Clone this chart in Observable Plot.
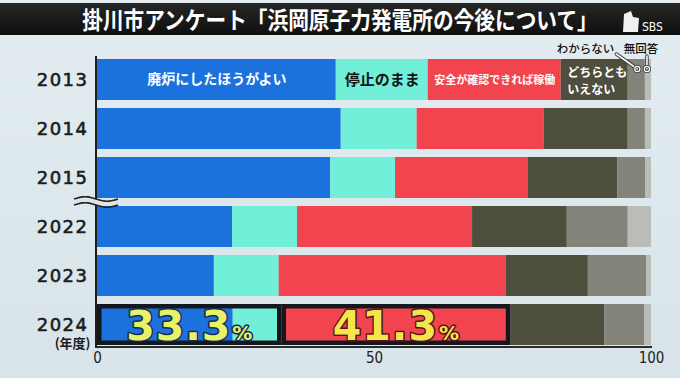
<!DOCTYPE html>
<html><head><meta charset="utf-8">
<script src="https://cdn.jsdelivr.net/npm/d3@7"></script>
<script src="https://cdn.jsdelivr.net/npm/@observablehq/plot@0.6"></script>
<style>
body{margin:0;width:680px;height:378px;overflow:hidden;background:linear-gradient(180deg,#e3edf1 0%,#d8e4e9 100%);font-family:"Noto Sans CJK JP",sans-serif;}
#title{position:relative;height:38px;}
#band{position:absolute;left:0;right:0;top:3px;height:32px;background:linear-gradient(#262626,#0f0f0f);}
#ttext{position:absolute;left:0;right:0;top:3px;height:32px;line-height:32px;text-align:center;color:#fff;font-weight:bold;font-size:23.5px;transform:scaleX(0.88);white-space:nowrap;letter-spacing:0;}
#logo{position:absolute;left:620px;top:8px;}
#chart svg{display:block;}
</style></head><body>
<div id="title"><div id="band"></div><div id="ttext">掛川市アンケート「浜岡原子力発電所の今後について」</div>
<svg id="logo" width="50" height="26"><path d="M4,6 L11,3 L13,9 L19,10 L18,24 L3,24 Z" fill="#f0f0f0"/><text x="22" y="23" fill="#fff" font-size="12" font-family="DejaVu Sans Condensed, sans-serif">SBS</text></svg>
</div>
<div id="chart"></div>
<script>
const years = ["2013","2014","2015","2022","2023","2024"];
const categories = ["廃炉にしたほうがよい","停止のまま","安全が確認できれば稼働","どちらともいえない","わからない","無回答"];
const haiRo     = [43.1, 44.0, 42.1, 24.4, 21.1, 24.5];
const teishi    = [16.6, 13.7, 11.7, 11.7, 11.7,  8.8];
const anzen     = [24.0, 22.9, 24.0, 31.6, 41.0, 41.3];
const dochira   = [12.1, 15.2, 16.1, 17.1, 14.8, 17.0];
const wakaranai = [ 3.1,  3.1,  5.1, 11.0, 10.5,  7.2];
const mukaito   = [ 1.1,  1.1,  1.0,  4.2,  0.9,  1.2];
const colors = ["#1b72dc","#72efd9","#f1444f","#4e4e3c","#84837a","#b9bcb7"];
const xTicks = [0, 50, 100];
const highlightLabels = ["33.3", "41.3"];
const yearUnit = "(年度)";

const series = [haiRo, teishi, anzen, dochira, wakaranai, mukaito];
const rows = categories.flatMap((c, i) => years.map((y, j) => ({year: y, category: c, value: series[i][j]})));
const cum = (j, i) => series.slice(0, i).reduce((s, a) => s + a[j], 0);
const mid = (j, i) => cum(j, i) + series[i][j] / 2;

const lab0 = [{x: mid(0,0), t: categories[0]}];
const lab1 = [{x: mid(0,1), t: categories[1]}];
const lab2 = [{x: mid(0,2), t: categories[2]}];
const lab3 = [{x: cum(0,3), t: "どちらとも\nいえない"}];

const last = years.length - 1;
const boxes = [
  {x1: 0, x2: cum(last, 2), label: highlightLabels[0], color: "#e6f268", outline: "#1b2a52"},
  {x1: cum(last, 2), x2: cum(last, 3), label: highlightLabels[1], color: "#f4e64a", outline: "#5a1418"}
];

function decorations(index, scales, values, dims) {
  const x = scales.x, y = scales.y;
  const bw = typeof y.bandwidth === "function" ? y.bandwidth() : y.bandwidth;
  const g = d3.create("svg:g");
  const yb = dims.height - dims.marginBottom;
  const bg = "#dbe6eb";
  g.append("line").attr("x1", x(0)).attr("x2", x(100) + 1).attr("y1", yb + 2).attr("y2", yb + 2)
    .attr("stroke", "#2b2b2b").attr("stroke-width", 2);
  g.append("line").attr("x1", x(0) - 1).attr("x2", x(0) - 1).attr("y1", y(years[0]) - 3).attr("y2", yb + 3)
    .attr("stroke", "#1e1e1e").attr("stroke-width", 2);
  const ym = (y("2015") + bw + y("2022")) / 2;
  const xa = x(0) - 23, xb = x(0) + 21;
  g.append("rect").attr("x", xa).attr("y", ym - 3).attr("width", xb - xa).attr("height", 6).attr("fill", bg);
  const wave = (yy) => d3.line().curve(d3.curveBasis)(d3.range(0, 1.0001, 0.1).map(t => [xa + t * (xb - xa), yy - 2.4 * Math.sin(t * Math.PI * 2)]));
  for (const dy of [-3, 3]) g.append("path").attr("d", wave(ym + dy)).attr("fill", "none").attr("stroke", "#222").attr("stroke-width", 1.6);
  const y0 = y(years[0]);
  const xg = x(mid(0, 4)), xl = x(mid(0, 5));
  const leaders = [
    {tx: xg - 22, anchor: "end", x1: xg - 20, y1: y0 - 5, x2: xg + 1, y2: y0 + 10, text: categories[4]},
    {tx: xl - 7, anchor: "middle", x1: xl - 1, y1: y0 - 3, x2: xl - 1, y2: y0 + 10, text: categories[5]}
  ];
  for (const L of leaders) {
    g.append("text").attr("x", L.tx).attr("y", y0 - 10).attr("dy", "0.35em").attr("text-anchor", L.anchor)
      .attr("font-size", 11.5).attr("fill", "#111").attr("font-weight", 500).text(L.text);
    g.append("line").attr("x1", L.x1).attr("y1", L.y1).attr("x2", L.x2).attr("y2", L.y2).attr("stroke", "#333").attr("stroke-width", 3.4).attr("stroke-linecap", "round");
    g.append("line").attr("x1", L.x1).attr("y1", L.y1).attr("x2", L.x2).attr("y2", L.y2).attr("stroke", "#fff").attr("stroke-width", 1.6).attr("stroke-linecap", "round");
    g.append("circle").attr("cx", L.x2).attr("cy", L.y2).attr("r", 2.6).attr("fill", "none").attr("stroke", "#333").attr("stroke-width", 2.8);
    g.append("circle").attr("cx", L.x2).attr("cy", L.y2).attr("r", 2.6).attr("fill", "none").attr("stroke", "#fff").attr("stroke-width", 1.3);
  }
  const cy = y(years[last]) + bw / 2;
  for (const b of boxes) {
    const t = g.append("text").attr("x", x((b.x1 + b.x2) / 2)).attr("y", cy + 15).attr("text-anchor", "middle")
      .attr("font-family", "DejaVu Sans, sans-serif").attr("font-weight", "bold")
      .attr("fill", b.color).attr("stroke", b.outline).attr("stroke-width", 3).attr("paint-order", "stroke").attr("stroke-linejoin", "round");
    t.append("tspan").attr("font-size", 41).attr("letter-spacing", 1).text(b.label);
    t.append("tspan").attr("font-size", 20).attr("dx", 1).text("%");
  }
  return g.node();
}

const chart = Plot.plot({
  width: 680, height: 340,
  marginLeft: 97, marginRight: 29, marginTop: 20, marginBottom: 33,
  style: {fontFamily: "'Noto Sans CJK JP', sans-serif", background: "transparent", overflow: "visible"},
  x: {domain: [0, 100], axis: null},
  y: {domain: years, axis: null, paddingInner: 0.17, paddingOuter: 0},
  color: {domain: categories, range: colors},
  marks: [
    Plot.barX(rows, {y: "year", x: "value", fill: "category"}),
    Plot.barX(boxes, {x1: "x1", x2: "x2", y: () => years[last], fill: "none", stroke: "#15171e", strokeWidth: 4.5, inset: 2.25}),
    Plot.text(lab0, {x: "x", y: () => years[0], text: "t", fill: "white", fontSize: 14, fontWeight: "bold"}),
    Plot.text(lab1, {x: "x", y: () => years[0], text: "t", fill: "#151515", fontSize: 15, fontWeight: "bold"}),
    Plot.text(lab2, {x: "x", y: () => years[0], text: "t", fill: "white", fontSize: 11, fontWeight: "bold"}),
    Plot.text(lab3, {x: "x", y: () => years[0], text: "t", fill: "white", fontSize: 12, fontWeight: "bold", textAnchor: "start", dx: 6, lineHeight: 1.45}),
    Plot.text(years, {y: d => d, text: d => d, frameAnchor: "left", textAnchor: "end", dx: -9, fontSize: 18, fill: "#1c1c1c", stroke: "#1c1c1c", strokeWidth: 0.6, fontFamily: "DejaVu Sans, sans-serif"}),
    Plot.text([yearUnit], {y: () => years[last], text: d => d, frameAnchor: "left", textAnchor: "end", dx: -7, dy: 19, fontSize: 13, fontWeight: "bold", fill: "#1c1c1c"}),
    Plot.text(xTicks, {x: d => d, text: d => String(d), frameAnchor: "bottom", dy: 17, fontSize: 15, fill: "#222", fontFamily: "Liberation Sans Narrow, DejaVu Sans Condensed, sans-serif"}),
    decorations
  ]
});
chart.querySelectorAll("text").forEach(t => { if (years.includes(t.textContent)) t.setAttribute("letter-spacing", "1.5"); });
document.getElementById("chart").appendChild(chart);
</script>
</body></html>
